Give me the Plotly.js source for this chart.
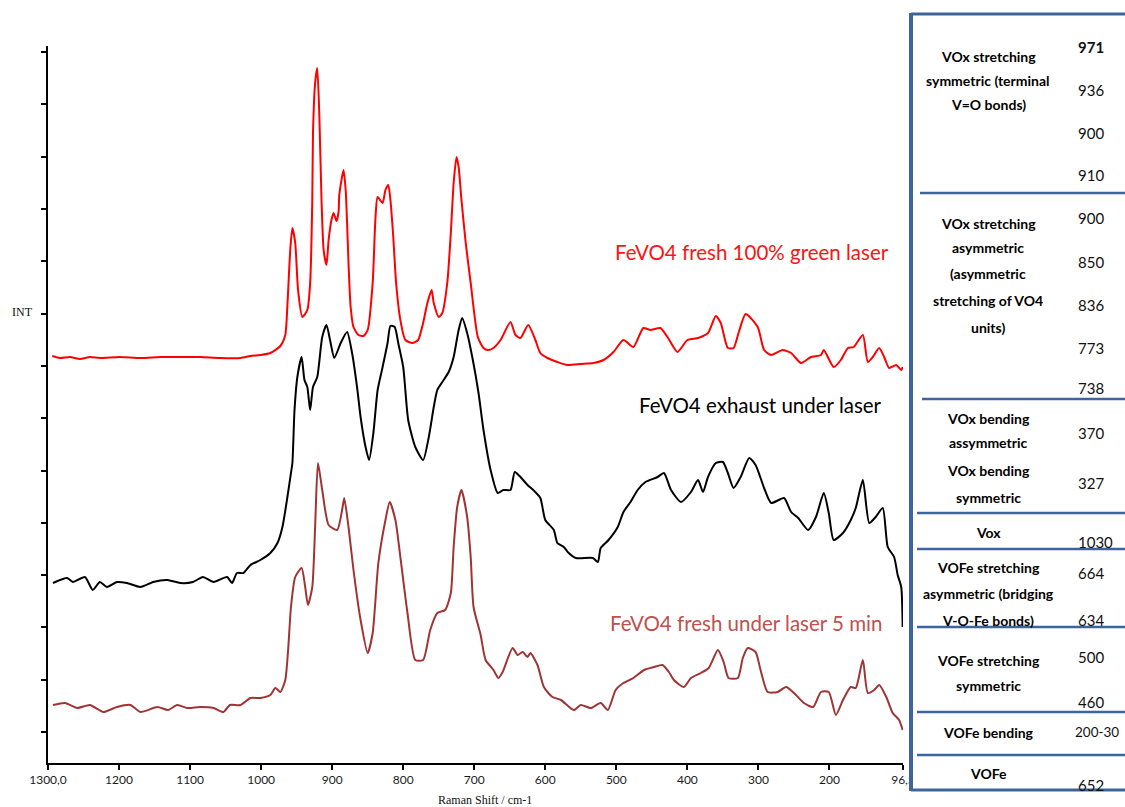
<!DOCTYPE html>
<html>
<head>
<meta charset="utf-8">
<script src="https://cdn.plot.ly/plotly-3.0.1.min.js"></script>
<style>
  html, body { margin: 0; padding: 0; background: #fff; }
  #chart { width: 1125px; height: 807px; }
</style>
</head>
<body>
<div id="chart"></div>
<script>
// Raman spectra of FeVO4 (wavenumber in cm-1, intensity in arbitrary units)
const freshGreenX = [1294,1283,1269,1255,1241,1227,1199,1170,1142,1114,1086,1058,1029,1015,1001,987,973,966,963,959,956,952,948,942,935,931,928,927,924,921,918,915,912,908,905,901,898,894,891,890,884,881,879,877,874,870,863,856,850,843,839,836,829,825,821,818,814,810,804,797,787,779,772,766,760,757,750,745,738,733,729,725,722,718,712,705,695,687,681,673,663,649,642,635,624,614,607,597,583,569,550,532,518,504,490,476,462,452,438,428,414,400,385,371,360,353,343,335,328,318,301,292,282,266,254,240,226,212,208,194,184,174,166,153,146,139,130,123,116,106,99,97];
const freshGreenY = [407,405,406,404,406,405,406,405,406,406,406,405,405,407,408,410,417,428,458,513,535,520,473,446,453,480,563,630,680,695,646,563,513,498,523,543,550,542,551,568,593,573,540,500,456,436,428,427,433,480,546,566,560,573,578,563,526,480,443,423,420,423,440,460,473,460,446,450,480,530,580,606,596,563,520,480,426,415,413,415,423,441,428,425,438,423,410,405,401,398,399,400,403,411,423,416,435,433,435,426,411,423,425,430,447,440,415,415,430,449,436,413,408,413,410,400,406,408,413,396,403,415,416,428,401,406,415,406,395,398,393,396];

const exhaustX = [1293,1273,1265,1248,1237,1227,1217,1203,1189,1170,1152,1132,1114,1096,1082,1067,1048,1041,1034,1025,1015,1001,987,977,970,963,958,956,953,949,943,939,935,931,927,921,914,908,903,897,888,879,872,865,860,853,848,842,836,829,822,818,812,807,800,793,783,772,764,757,752,745,736,729,722,717,710,702,694,687,677,667,659,649,643,635,625,617,607,600,588,583,574,567,557,533,526,522,511,498,490,480,470,459,442,433,423,409,395,385,378,371,360,350,343,335,325,313,304,292,282,264,254,244,230,219,208,201,194,181,170,163,153,144,135,125,118,109,104,99,97];
const exhaustY = [180,185,181,186,173,181,176,181,180,176,181,183,180,181,186,181,186,180,190,190,198,203,210,220,236,266,290,300,353,386,406,383,376,353,376,386,426,438,423,405,420,431,410,376,346,316,303,330,373,396,420,437,436,420,396,343,316,303,326,356,373,381,391,406,433,445,430,403,370,333,293,270,273,273,291,286,278,273,265,243,233,220,216,210,205,205,201,215,223,236,251,261,273,281,286,290,273,261,271,283,271,286,300,301,290,275,286,305,298,275,260,265,251,245,233,246,270,250,223,230,243,255,283,240,246,255,216,206,188,176,136];

const fresh5minX = [1293,1276,1259,1241,1222,1203,1184,1170,1146,1131,1118,1104,1086,1067,1053,1044,1029,1015,1001,987,980,973,966,962,958,952,943,938,934,928,924,920,914,905,893,886,883,877,870,860,850,843,835,825,819,811,804,794,783,772,762,752,741,733,729,724,718,710,705,701,691,684,673,666,660,646,639,632,625,621,611,602,590,578,560,550,536,522,512,501,490,476,461,447,435,426,419,405,395,381,370,357,349,342,329,322,315,304,297,287,273,261,250,236,223,212,201,191,181,170,163,153,146,137,130,120,111,102,97];
const fresh5minY = [58,60,55,58,51,56,58,51,56,53,58,55,56,55,51,58,58,65,65,68,75,71,83,113,156,186,195,176,158,176,236,300,273,238,233,253,265,236,193,143,110,130,200,243,261,243,206,150,103,103,133,150,153,170,216,256,273,246,206,156,128,103,93,85,91,115,108,111,106,110,98,76,66,63,53,58,55,60,53,73,80,85,93,96,98,91,83,76,85,90,95,113,101,85,85,105,115,111,93,71,71,76,70,60,56,71,71,48,63,76,75,103,70,73,78,66,50,43,33];

const seriesNames = ['FeVO4 fresh 100% green laser', 'FeVO4 exhaust under laser', 'FeVO4 fresh under laser 5 min'];

const xTickVals = [1300,1200,1100,1000,900,800,700,600,500,400,300,200,96.5];
const xTickText = ['1300,0','1200','1100','1000','900','800','700','600','500','400','300','200','96,5'];

// Band assignment table shown beside the spectra
const bandNames = [
  ['VOx stretching','symmetric (terminal','V=O bonds)'],
  ['VOx stretching','asymmetric','(asymmetric','stretching of VO4','units)'],
  ['VOx bending','assymmetric'],
  ['VOx bending','symmetric'],
  ['Vox'],
  ['VOFe stretching','asymmetric (bridging','V-O-Fe bonds)'],
  ['VOFe stretching','symmetric'],
  ['VOFe bending'],
  ['VOFe']
];
const bandValues = [
  ['971','936','900','910'],
  ['900','850','836','773','738'],
  ['370'],
  ['327'],
  ['1030'],
  ['664','634'],
  ['500','460'],
  ['200-30'],
  ['652']
];

// ---- page geometry (pixels) ----
const W = 1125, H = 807;
const M = {l: 48, r: 222, t: 46, b: 44};
const PW = W - M.l - M.r, PH = H - M.t - M.b;
const px = x => (x - M.l) / PW;
const py = y => (H - M.b - y) / PH;

// row text placement inside the table
const nameLineY = [[56,80,104],[223,248,273,300,327],[418,443],[470,497],[532],[567,593,620],[660,685],[732],[773]];
const valueLineY = [[47,90,133,175],[218,262,305,348,388],[433],[483],[542],[573,620],[657,702],[732],[785]];
const rowRules = [193, 399, 513, 549, 627, 712, 755];
const ruleStartX = [920, 922, 917, 917, 917, 917, 917];

const tableBlue = 'rgb(62,100,158)';
const textFont = 'Lato, "Open Sans", sans-serif';

const traces = [
  {x: freshGreenX, y: freshGreenY, color: 'rgb(255,0,0)'},
  {x: exhaustX, y: exhaustY, color: 'rgb(0,0,0)'},
  {x: fresh5minX, y: fresh5minY, color: 'rgb(160,52,52)'}
].map((s, i) => ({
  type: 'scatter', mode: 'lines', name: seriesNames[i],
  x: s.x, y: s.y,
  line: {color: s.color, width: 2, shape: 'spline', smoothing: 0.6},
  hoverinfo: 'skip'
}));

const annotations = [];
const shapes = [];

// series labels
const labelSpec = [
  {x: 752, y: 252, color: 'rgb(250,20,20)'},
  {x: 760, y: 405, color: 'rgb(0,0,0)'},
  {x: 746, y: 623, color: 'rgb(192,80,77)'}
];
labelSpec.forEach((l, i) => annotations.push({
  xref: 'paper', yref: 'paper', x: px(l.x), y: py(l.y),
  xanchor: 'center', yanchor: 'middle', showarrow: false,
  text: seriesNames[i], font: {family: textFont, size: 20.5, color: l.color}
}));

// axis titles
annotations.push({
  xref: 'paper', yref: 'paper', x: px(22), y: py(312), xanchor: 'center', yanchor: 'middle',
  showarrow: false, text: 'INT', font: {family: '"Liberation Serif", "DejaVu Serif", serif', size: 12, color: '#111'}
});
annotations.push({
  xref: 'paper', yref: 'paper', x: px(485), y: py(800), xanchor: 'center', yanchor: 'middle',
  showarrow: false, text: 'Raman Shift / cm-1', font: {family: '"Liberation Serif", "DejaVu Serif", serif', size: 12, color: '#111'}
});

// table background and borders
shapes.push({type: 'rect', xref: 'paper', yref: 'paper', layer: 'above',
  x0: px(909), x1: px(W + 5), y0: py(-5), y1: py(H + 5), fillcolor: '#fff', line: {width: 0}});
shapes.push({type: 'line', xref: 'paper', yref: 'paper', layer: 'above',
  x0: px(911), x1: px(W), y0: py(14), y1: py(14), line: {color: tableBlue, width: 3}});
shapes.push({type: 'line', xref: 'paper', yref: 'paper', layer: 'above',
  x0: px(911), x1: px(W), y0: py(790), y1: py(790), line: {color: tableBlue, width: 3}});
shapes.push({type: 'line', xref: 'paper', yref: 'paper', layer: 'above',
  x0: px(911), x1: px(911), y0: py(13), y1: py(791), line: {color: tableBlue, width: 4}});
rowRules.forEach((y, i) => shapes.push({type: 'line', xref: 'paper', yref: 'paper', layer: 'above',
  x0: px(ruleStartX[i]), x1: px(W), y0: py(y), y1: py(y), line: {color: tableBlue, width: 2.5}}));

bandNames.forEach((lines, r) => lines.forEach((t, k) => annotations.push({
  xref: 'paper', yref: 'paper', x: px(988), y: py(nameLineY[r][k]),
  xanchor: 'center', yanchor: 'middle', showarrow: false,
  text: '<b>' + t + '</b>', font: {family: textFont, size: 14, color: '#000'}
})));
bandValues.forEach((vals, r) => vals.forEach((t, k) => {
  const wide = t.length > 4;
  annotations.push({
    xref: 'paper', yref: 'paper', x: px(wide ? 1073 : 1076), y: py(valueLineY[r][k]),
    xanchor: 'left', yanchor: 'middle', showarrow: false,
    text: (r === 0 && k === 0) ? '<b>' + t + '</b>' : t,
    font: {family: textFont, size: wide ? 13.5 : 15, color: '#111'}
  });
}));

const layout = {
  width: W, height: H,
  margin: M,
  paper_bgcolor: '#fff', plot_bgcolor: '#fff',
  showlegend: false,
  xaxis: {
    range: [1300, 96.5], autorange: false,
    showgrid: false, zeroline: false,
    showline: true, linecolor: '#000', linewidth: 2,
    ticks: 'outside', ticklen: 5, tickwidth: 2, tickcolor: '#000',
    tickmode: 'array', tickvals: xTickVals, ticktext: xTickText,
    tickfont: {family: textFont, size: 12, color: '#1a1a1a'}
  },
  yaxis: {
    range: [0, PH], autorange: false,
    showgrid: false, zeroline: false,
    showline: true, linecolor: '#000', linewidth: 2,
    ticks: 'outside', ticklen: 5, tickwidth: 2, tickcolor: '#000',
    tickmode: 'linear', tick0: 31, dtick: 52.3,
    showticklabels: false
  },
  annotations: annotations,
  shapes: shapes
};

Plotly.newPlot('chart', traces, layout, {staticPlot: true, displayModeBar: false});
</script>
</body>
</html>
